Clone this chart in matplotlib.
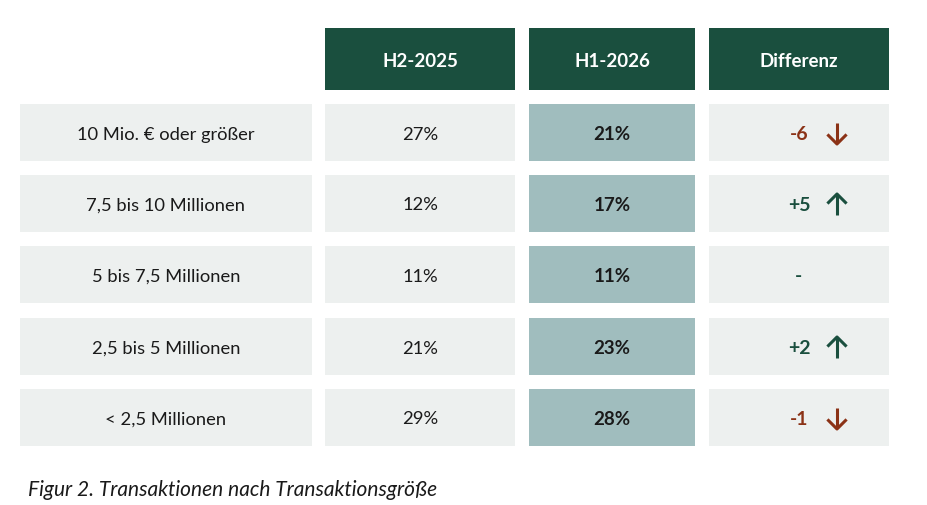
import matplotlib.pyplot as plt
from matplotlib.patches import Rectangle

plt.rcParams['font.family'] = ['Lato', 'DejaVu Sans']

kategorien = ["10 Mio. € oder größer", "7,5 bis 10 Millionen", "5 bis 7,5 Millionen",
              "2,5 bis 5 Millionen", "< 2,5 Millionen"]
spalten = ["H2-2025", "H1-2026", "Differenz"]
h2_2025 = [27, 12, 11, 21, 29]
h1_2026 = [21, 17, 11, 23, 28]
titel = "Figur 2. Transaktionen nach Transaktionsgröße"

dunkelgruen = "#1a4f3e"
hellgrau = "#edf0ef"
blaugrau = "#a0bdbe"
rotbraun = "#8b3216"

# Spalten (x links, x rechts) in Pixeln
spalten_x = [(20, 312), (325, 515), (529, 695), (709, 889)]
kopf_y = (29, 91)
zeilen_y = [(105, 162), (176, 233), (247, 304), (319, 376), (390, 447)]

fig = plt.figure(figsize=(9.27, 5.06), dpi=100)
ax = fig.add_axes([0, 0, 1, 1])
ax.set_xlim(0, 927)
ax.set_ylim(506, 0)
ax.axis("off")

def zelle(x, y, farbe):
    ax.add_patch(Rectangle((x[0], y[0]), x[1] - x[0], y[1] - y[0], color=farbe, lw=0))

def mitte(a):
    return (a[0] + a[1]) / 2

# Kopfzeile
for i, name in enumerate(spalten):
    x = spalten_x[i + 1]
    zelle(x, kopf_y, dunkelgruen)
    ax.text(mitte(x), mitte(kopf_y) + 1, name, color="white", fontsize=13.5,
            fontweight="bold", ha="center", va="center")

def pfeil(x, y, hoch, farbe):
    h = 10.5
    s = 8.5
    if hoch:
        ax.plot([x, x], [y + h, y - h + 1], color=farbe, lw=2.2, solid_capstyle="butt")
        ax.plot([x - s, x, x + s], [y - h + s, y - h, y - h + s], color=farbe, lw=2.2)
    else:
        ax.plot([x, x], [y - h, y + h - 1], color=farbe, lw=2.2, solid_capstyle="butt")
        ax.plot([x - s, x, x + s], [y + h - s, y + h, y + h - s], color=farbe, lw=2.2)

for r, kat in enumerate(kategorien):
    y = zeilen_y[r]
    ym = mitte(y) + 1
    zelle(spalten_x[0], y, hellgrau)
    ax.text(mitte(spalten_x[0]), ym, kat, fontsize=13.2, ha="center", va="center", color="#1a1a1a")
    zelle(spalten_x[1], y, hellgrau)
    ax.text(mitte(spalten_x[1]), ym, f"{h2_2025[r]}%", fontsize=13.2, ha="center", va="center", color="#1a1a1a")
    zelle(spalten_x[2], y, blaugrau)
    ax.text(mitte(spalten_x[2]), ym, f"{h1_2026[r]}%", fontsize=13.5, fontweight="bold",
            ha="center", va="center", color="#1a1a1a")
    zelle(spalten_x[3], y, hellgrau)
    d = h1_2026[r] - h2_2025[r]
    xm = mitte(spalten_x[3])
    if d == 0:
        ax.text(xm, ym, "-", fontsize=14, fontweight="bold", ha="center", va="center", color=dunkelgruen)
    else:
        farbe = dunkelgruen if d > 0 else rotbraun
        ax.text(xm, ym, f"{d:+d}", fontsize=14, fontweight="bold", ha="center", va="center", color=farbe)
        pfeil(xm + 38, ym, d > 0, farbe)

ax.text(28, 490, titel, fontsize=15, style="italic", ha="left", va="center", color="#1a1a1a")

fig.savefig("out.png", dpi=100)
